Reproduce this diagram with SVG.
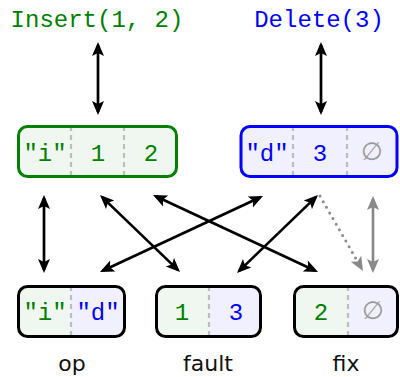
<svg xmlns="http://www.w3.org/2000/svg" width="400" height="377" viewBox="0 0 400 377">
<style>
.mono{font-family:"Liberation Mono","DejaVu Sans Mono",monospace;font-size:24px;text-anchor:middle}
.lbl{font-family:"DejaVu Sans","Liberation Sans",sans-serif;font-size:22px;text-anchor:middle;fill:#111}
.g{fill:#008000}
.b{fill:#0000ff}
.nul{font-family:"DejaVu Sans",sans-serif;font-size:25px;text-anchor:middle;fill:#9a9a9a}
.div{stroke:#bdbdbd;stroke-width:2.2;stroke-dasharray:5 4}
.box{fill:none;stroke-width:3}
.arr{stroke:#000;stroke-width:2.7;fill:none;marker-start:url(#ah);marker-end:url(#ah)}
.garr{stroke:#8a8a8a;stroke-width:2.7;fill:none;marker-start:url(#gh);marker-end:url(#gh)}
.dot{stroke:#8a8a8a;stroke-width:3;stroke-linecap:round;stroke-dasharray:0 6.5;fill:none;marker-end:url(#gh)}
</style>
<defs>
<marker id="ah" viewBox="-12 -7 16 14" refX="0" refY="0" markerWidth="16" markerHeight="14" markerUnits="userSpaceOnUse" orient="auto-start-reverse">
<path d="M3,0 L-11,-6 L-8,0 L-11,6 Z" fill="#000"/>
</marker>
<marker id="gh" viewBox="-12 -7 16 14" refX="0" refY="0" markerWidth="16" markerHeight="14" markerUnits="userSpaceOnUse" orient="auto-start-reverse">
<path d="M3,0 L-11,-6 L-8,0 L-11,6 Z" fill="#8a8a8a"/>
</marker>
</defs>

<g id="insert">
<text class="mono g" x="97" y="27">Insert(1, 2)</text>
</g>
<g id="delete">
<text class="mono b" x="319" y="27">Delete(3)</text>
</g>

<g id="insert-record">
<rect x="18.5" y="126.5" width="158" height="50" rx="9" fill="#f0f7f0"/>
<line class="div" x1="71" y1="126" x2="71" y2="178"/>
<line class="div" x1="124" y1="126" x2="124" y2="178"/>
<rect class="box" x="18.5" y="126.5" width="158" height="50" rx="9" stroke="#008000"/>
<text class="mono g" x="45" y="161">"i"</text>
<text class="mono g" x="98" y="161">1</text>
<text class="mono g" x="151" y="161">2</text>
</g>

<g id="delete-record">
<rect x="241" y="126.5" width="156" height="50" rx="9" fill="#f0f0fe"/>
<line class="div" x1="293" y1="126" x2="293" y2="178"/>
<line class="div" x1="347" y1="126" x2="347" y2="178"/>
<rect class="box" x="241" y="126.5" width="156" height="50" rx="9" stroke="#0000ff"/>
<text class="mono b" x="267" y="161">"d"</text>
<text class="mono b" x="320" y="161">3</text>
<text class="nul" x="372" y="160">∅</text>
</g>

<g id="op">
<rect x="18.5" y="286.5" width="106" height="50" rx="9" fill="#f0f0fe"/>
<path d="M71,286.5 H27.5 A9,9 0 0 0 18.5,295.5 V327.5 A9,9 0 0 0 27.5,336.5 H71 Z" fill="#f0f7f0"/>
<line class="div" x1="71" y1="286" x2="71" y2="338"/>
<rect class="box" x="18.5" y="286.5" width="106" height="50" rx="9" stroke="#000"/>
<text class="mono g" x="45" y="320">"i"</text>
<text class="mono b" x="98" y="320">"d"</text>
<text class="lbl" x="72" y="371">op</text>
</g>

<g id="fault">
<rect x="156.5" y="286.5" width="104" height="50" rx="9" fill="#f0f0fe"/>
<path d="M209,286.5 H165.5 A9,9 0 0 0 156.5,295.5 V327.5 A9,9 0 0 0 165.5,336.5 H209 Z" fill="#f0f7f0"/>
<line class="div" x1="209" y1="286" x2="209" y2="338"/>
<rect class="box" x="156.5" y="286.5" width="104" height="50" rx="9" stroke="#000"/>
<text class="mono g" x="182" y="320">1</text>
<text class="mono b" x="236" y="320">3</text>
<text class="lbl" x="208" y="371">fault</text>
</g>

<g id="fix">
<rect x="294.5" y="286.5" width="103" height="50" rx="9" fill="#f0f0fe"/>
<path d="M348,286.5 H303.5 A9,9 0 0 0 294.5,295.5 V327.5 A9,9 0 0 0 303.5,336.5 H348 Z" fill="#f0f7f0"/>
<line class="div" x1="348" y1="286" x2="348" y2="338"/>
<rect class="box" x="294.5" y="286.5" width="103" height="50" rx="9" stroke="#000"/>
<text class="mono g" x="321" y="320">2</text>
<text class="nul" x="373" y="319">∅</text>
<text class="lbl" x="346" y="371">fix</text>
</g>

<g id="connectors">
<line class="arr" x1="98" y1="45" x2="98" y2="112"/>
<line class="arr" x1="321" y1="45" x2="321" y2="112"/>
<line class="arr" x1="44" y1="198" x2="44" y2="270"/>
<line class="arr" x1="102.2" y1="197.1" x2="177.8" y2="269.9"/>
<line class="arr" x1="155.7" y1="196.3" x2="315.3" y2="270.7"/>
<line class="arr" x1="260.3" y1="197.3" x2="102.7" y2="270.7"/>
<line class="arr" x1="315.8" y1="197.1" x2="239.2" y2="270.9"/>
<line class="dot" x1="320" y1="196" x2="361.5" y2="268.4"/>
<line class="garr" x1="373" y1="199" x2="373" y2="270"/>
</g>
</svg>
